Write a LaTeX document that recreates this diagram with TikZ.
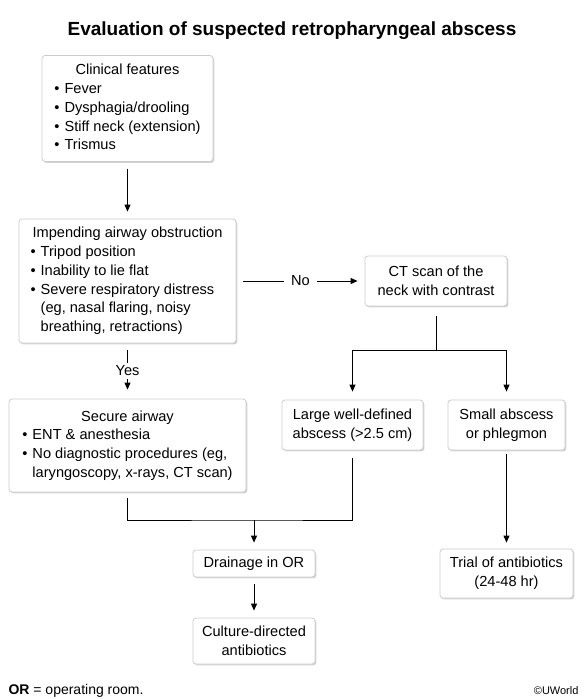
\documentclass[tikz,border=0pt]{standalone}
\usepackage{fontspec}
\setmainfont{Liberation Sans}
\usetikzlibrary{arrows.meta,shadows}

\begin{document}
\begin{tikzpicture}[x = 1pt, y = -1pt,
        flowbox/.style = {draw = gray!40, line width = 0.8pt, fill = white, rounded corners = 3pt,
            inner sep = 0pt, align = center, font = \fontsize{14.6}{18.8}\selectfont,
            drop shadow = {shadow xshift = 1.4pt, shadow yshift = -1.4pt, opacity = 0.35}},
        flowline/.style = {line width = 1pt, shorten < = 7pt, shorten > = 7pt},
        flowarrow/.style = {flowline, -{Triangle[length = 7pt, width = 6pt]}},
        answer/.style = {fill = white, font = \fontsize{14.6}{18.8}\selectfont, inner xsep = 7pt, inner ysep = 3pt}]
        \useasboundingbox (0,0) rectangle (584,699);
        \node (title) [anchor = base, font = \bfseries\fontsize{19}{23}\selectfont] at (292,35)
            {Evaluation of suspected retropharyngeal abscess};
        \node (clin)[flowbox, minimum width = 171pt, minimum height = 106pt] at (127.5,108.5)
            {\begin{tabular}{@{}l@{\hspace{5pt}}l@{}}
                \multicolumn{2}{c}{Clinical features}\\
                • & Fever\\
                • & Dysphagia/drooling\\
                • & Stiff neck (extension)\\
                • & Trismus
            \end{tabular}};
        \node (airway)[flowbox, minimum width = 217pt, minimum height = 124pt] at (127.5,281)
            {\begin{tabular}{@{\hspace{4pt}}l@{\hspace{5pt}}l@{}}
                \multicolumn{2}{c}{Impending airway obstruction}\\
                • & Tripod position\\
                • & Inability to lie flat\\
                • & Severe respiratory distress\\
                  & (eg, nasal flaring, noisy\\
                  & breathing, retractions)
            \end{tabular}};
        \node (ct)[flowbox, minimum width = 142pt, minimum height = 50pt] at (436,281)
            {CT scan of the\\neck with contrast};
        \node (secure)[flowbox, minimum width = 237pt, minimum height = 93pt] at (127.5,445.5)
            {\begin{tabular}{@{}l@{\hspace{5pt}}l@{}}
                \multicolumn{2}{c}{Secure airway}\\
                • & ENT \& anesthesia\\
                • & No diagnostic procedures (eg,\\
                  & laryngoscopy, x-rays, CT scan)
            \end{tabular}};
        \node (large)[flowbox, minimum width = 141pt, minimum height = 50pt] at (352.5,425)
            {Large well-defined\\abscess (>2.5 cm)};
        \node (small)[flowbox, minimum width = 117pt, minimum height = 50pt] at (506.5,425)
            {Small abscess\\or phlegmon};
        \node (drain)[flowbox, minimum width = 122pt, minimum height = 27pt] at (254,563.5)
            {Drainage in OR};
        \node (culture)[flowbox, minimum width = 122pt, minimum height = 46pt] at (254,641)
            {Culture-directed\\antibiotics};
        \node (trial)[flowbox, minimum width = 133pt, minimum height = 49pt] at (506.5,573.5)
            {Trial of antibiotics\\(24-48 hr)};
        \coordinate (split) at (436,350);
        \coordinate (join) at (254,520);
        % connectors
        \path(clin) edge[flowarrow] (airway);
        \path(airway) edge[flowarrow] node[answer] {No} (ct);
        \path(airway) edge[flowarrow, shorten > = 9pt] node[answer] {Yes} (secure);
        \draw[flowline, shorten < = 10pt, shorten > = 0pt] (ct) -- (split);
        \draw[flowarrow, shorten < = 0pt, shorten > = 8pt] (split) -| (large);
        \draw[flowarrow, shorten < = 0pt, shorten > = 8pt] (split) -| (small);
        \draw[flowline, shorten < = 6pt, shorten > = 8pt] (secure) |- (join) -| (large);
        \path(join) edge[flowarrow, shorten < = 0pt] (drain);
        \path(drain) edge[flowarrow] (culture);
        \path(small) edge[flowarrow, shorten < = 4pt, shorten > = 6pt] (trial);
        \node (abbr)[anchor = base west, font = \fontsize{14}{16}\selectfont] at (5,694)
            {\textbf{OR} = operating room.};
        \node (credit)[anchor = base east, font = \fontsize{11}{13}\selectfont] at (582,694)
            {©UWorld};
\end{tikzpicture}
\end{document}
